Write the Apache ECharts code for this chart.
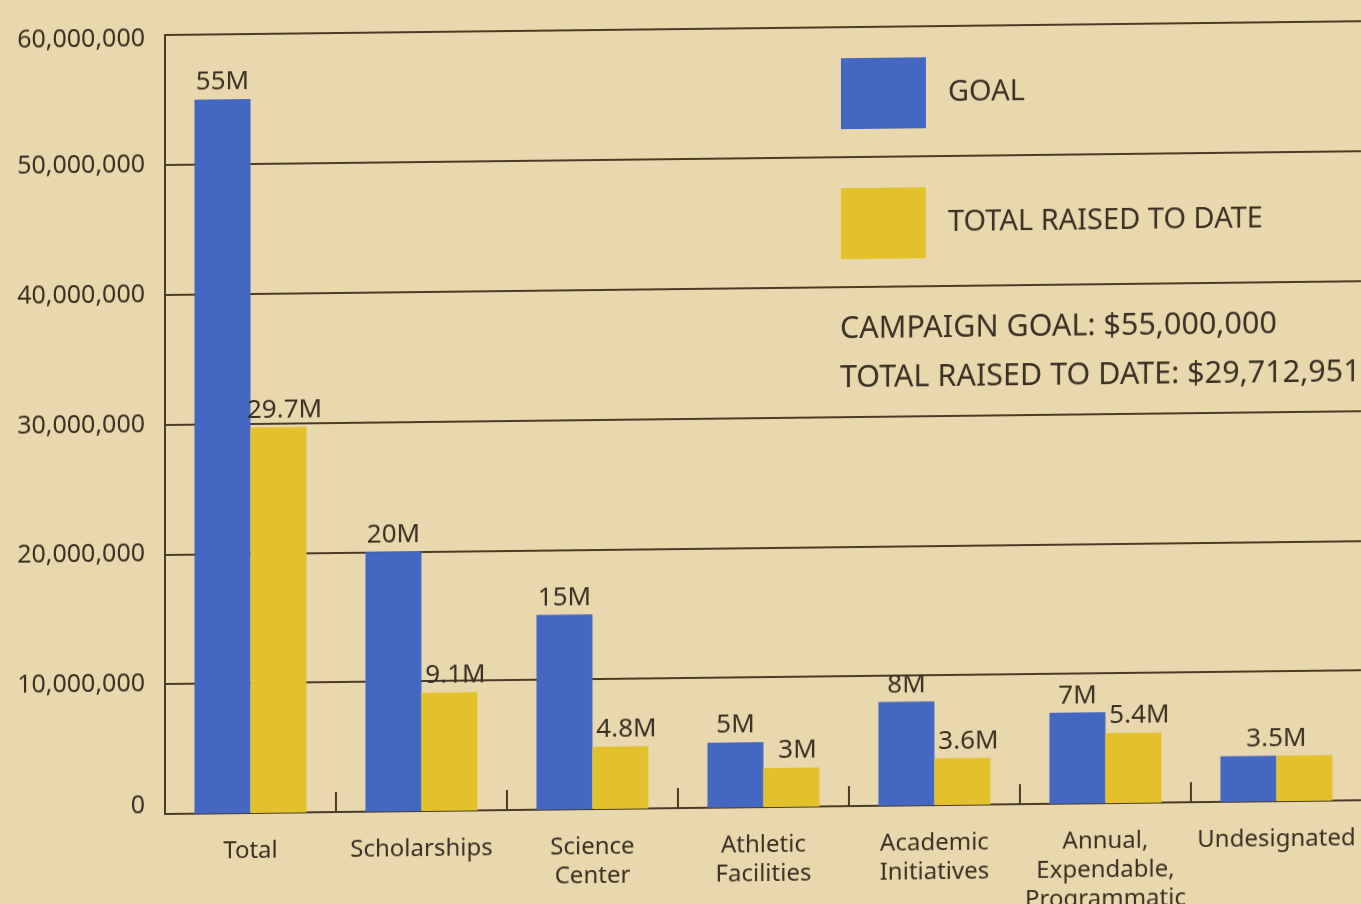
<!DOCTYPE html>
<html><head><meta charset="utf-8">
<script src="https://cdn.jsdelivr.net/npm/echarts@6/dist/echarts.min.js"></script>
<style>
html,body{margin:0;padding:0;background:#e9d8ad;overflow:hidden;width:1361px;height:904px}
#chart{width:1361px;height:940px;transform:skewY(-0.66deg);transform-origin:165px 0}
</style></head><body><div id="chart"></div>
<script>
const categories = ['Total', 'Scholarships', 'Science\nCenter', 'Athletic\nFacilities', 'Academic\nInitiatives', 'Annual,\nExpendable,\nProgrammatic', 'Undesignated'];
const goalValues = [55000000, 20000000, 15000000, 5000000, 8000000, 7000000, 3500000];
const raisedValues = [29700000, 9100000, 4800000, 3000000, 3600000, 5400000, 3500000];
const yMin = 0, yMax = 60000000, yStep = 10000000;
const seriesNames = ['GOAL', 'TOTAL RAISED TO DATE'];
const campaignGoal = 55000000;
const totalRaisedToDate = 29712951;

const FONT = '"Noto Sans", "Open Sans", sans-serif';
const TXT = '#3a3024';
const LINE = '#4a3b27';
const BLUE = '#4468c2';
const YELLOW = '#e3c12c';

const fmtM = v => (v / 1e6) + 'M';
const fmtNum = v => v.toLocaleString('en-US');
const fmtY = v => v === yMin ? '{lo|' + fmtNum(v) + '}' : (v === yMax ? '{hi|' + fmtNum(v) + '}' : fmtNum(v));

const goalData = goalValues.map((v, i) => v === raisedValues[i]
  ? { value: v, label: { offset: [28, 0] } } : v);
const raisedData = raisedValues.map((v, i) => v === goalValues[i]
  ? { value: v, label: { show: false } } : v);

const chart = echarts.init(document.getElementById('chart'), null, { renderer: 'canvas' });
chart.setOption({
  backgroundColor: 'transparent',
  animation: false,
  textStyle: { fontFamily: FONT, color: TXT },
  grid: { left: 165, top: 35, width: 1197, height: 779, containLabel: false, outerBoundsMode: 'none' },
  legend: {
    orient: 'vertical', left: 841, top: 66, padding: 0,
    itemWidth: 85, itemHeight: 71, itemGap: 59,
    icon: 'rect',
    data: seriesNames,
    textStyle: { fontFamily: FONT, fontSize: 29, color: TXT, padding: [0, 0, 0, 17] }
  },
  xAxis: {
    type: 'category', data: categories,
    axisLine: { show: true, lineStyle: { color: LINE, width: 2 } },
    axisTick: { show: true, inside: true, length: 20, lineStyle: { color: LINE, width: 2 } },
    axisLabel: { fontFamily: FONT, fontSize: 24, color: TXT, lineHeight: 29, margin: 24, interval: 0 },
    splitLine: { show: false }
  },
  yAxis: {
    type: 'value', min: yMin, max: yMax, interval: yStep,
    axisLine: { show: true, lineStyle: { color: LINE, width: 2 } },
    axisTick: { show: false },
    axisLabel: {
      fontFamily: FONT, fontSize: 25, color: TXT, margin: 20, formatter: fmtY,
      rich: {
        lo: { fontFamily: FONT, fontSize: 25, color: TXT, padding: [0, 0, 16, 0] },
        hi: { fontFamily: FONT, fontSize: 25, color: TXT, padding: [8, 0, 0, 0] }
      }
    },
    splitLine: { show: true, lineStyle: { color: LINE, width: 2 } }
  },
  series: [
    {
      name: seriesNames[0], type: 'bar', data: goalData,
      barWidth: 56, barGap: '0%',
      itemStyle: { color: BLUE },
      label: { show: true, position: 'top', distance: 4, fontFamily: FONT, fontSize: 26, color: TXT, formatter: p => fmtM(p.value) }
    },
    {
      name: seriesNames[1], type: 'bar', data: raisedData,
      barWidth: 56,
      itemStyle: { color: YELLOW },
      label: { show: true, position: 'top', distance: 4, offset: [6, 0], fontFamily: FONT, fontSize: 26, color: TXT, formatter: p => fmtM(p.value) }
    }
  ],
  graphic: [
    { type: 'text', left: 840, top: 322, style: { text: 'CAMPAIGN GOAL: $' + fmtNum(campaignGoal), font: '30.5px ' + FONT, fill: TXT } },
    { type: 'text', left: 840, top: 371, style: { text: 'TOTAL RAISED TO DATE: $' + fmtNum(totalRaisedToDate), font: '30.5px ' + FONT, fill: TXT } }
  ]
});
</script></body></html>
